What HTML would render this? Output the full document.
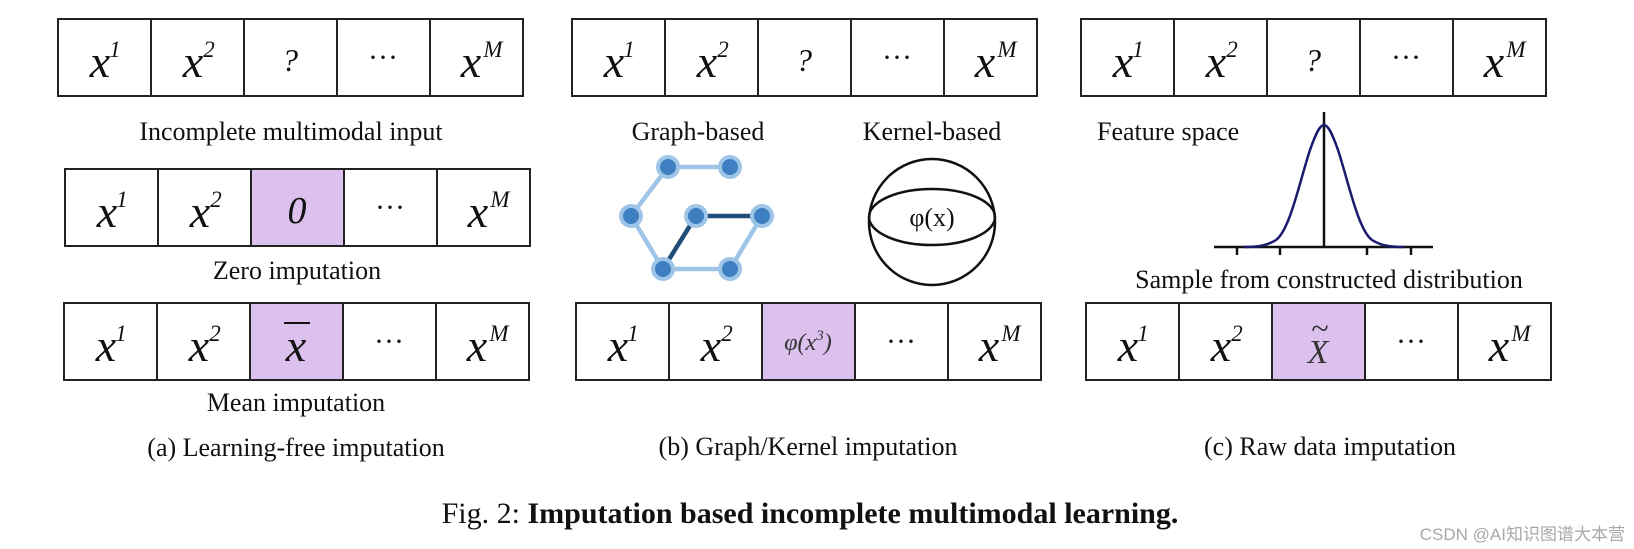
<!DOCTYPE html>
<html><head><meta charset="utf-8"><style>
html,body{margin:0;padding:0;background:#fff;}
svg{display:block;}
text{font-family:"Liberation Serif",serif;fill:#111;}
.lab{font-size:26px;}
.cx{font-size:46px;font-style:italic;}
.sp{font-size:23px;font-style:italic;}
</style></head><body>
<svg width="1634" height="549" viewBox="0 0 1634 549" xmlns="http://www.w3.org/2000/svg">
<defs>
<g id="row">
  <rect x="0" y="0" width="465" height="77" fill="#fff" stroke="#222" stroke-width="2"/>
  <line x1="93" y1="0" x2="93" y2="77" stroke="#222" stroke-width="2"/>
  <line x1="186" y1="0" x2="186" y2="77" stroke="#222" stroke-width="2"/>
  <line x1="279" y1="0" x2="279" y2="77" stroke="#222" stroke-width="2"/>
  <line x1="372" y1="0" x2="372" y2="77" stroke="#222" stroke-width="2"/>
  <text class="cx" x="42" y="58" text-anchor="middle">x</text><text class="sp" x="57" y="38" text-anchor="middle">1</text>
  <text class="cx" x="135" y="58" text-anchor="middle">x</text><text class="sp" x="151" y="38" text-anchor="middle">2</text>
  <text x="325" y="48" text-anchor="middle" style="font-size:30px">···</text>
  <text class="cx" x="413" y="58" text-anchor="middle">x</text><text class="sp" x="435" y="38" text-anchor="middle">M</text>
</g>
<g id="purple"><rect x="186" y="0" width="93" height="77" fill="#dcc0ee" stroke="#222" stroke-width="2"/></g>
</defs>

<!-- Panel a -->
<g transform="translate(58,19)"><use href="#row"/><text x="232" y="52" text-anchor="middle" style="font-size:32px;font-style:italic">?</text></g>
<text class="lab" x="291" y="140" text-anchor="middle">Incomplete multimodal input</text>
<g transform="translate(65,169)"><use href="#row"/><use href="#purple"/><text x="232" y="54" text-anchor="middle" style="font-size:38px;font-style:italic">0</text></g>
<text class="lab" x="297" y="279" text-anchor="middle">Zero imputation</text>
<g transform="translate(64,303)"><use href="#row"/><use href="#purple"/><text class="cx" x="232" y="58" text-anchor="middle">x</text><line x1="220" y1="20" x2="246" y2="20" stroke="#111" stroke-width="2"/></g>
<text class="lab" x="296" y="411" text-anchor="middle">Mean imputation</text>
<text class="lab" x="296" y="456" text-anchor="middle">(a) Learning-free imputation</text>

<!-- Panel b -->
<g transform="translate(572,19)"><use href="#row"/><text x="232" y="52" text-anchor="middle" style="font-size:32px;font-style:italic">?</text></g>
<text class="lab" x="698" y="140" text-anchor="middle">Graph-based</text>
<text class="lab" x="932" y="140" text-anchor="middle">Kernel-based</text>
<g stroke-width="4.5" stroke-linecap="round">
  <line x1="668" y1="167" x2="730" y2="167" stroke="#9ec5e8"/>
  <line x1="668" y1="167" x2="631" y2="216" stroke="#9ec5e8"/>
  <line x1="631" y1="216" x2="663" y2="269" stroke="#9ec5e8"/>
  <line x1="663" y1="269" x2="730" y2="269" stroke="#9ec5e8"/>
  <line x1="730" y1="269" x2="762" y2="216" stroke="#9ec5e8"/>
  <line x1="696" y1="216" x2="762" y2="216" stroke="#1f4e79"/>
  <line x1="696" y1="216" x2="663" y2="269" stroke="#1f4e79"/>
</g>
<g fill="#3d7fc1" stroke="#9ec5e8" stroke-width="4">
  <circle cx="668" cy="167" r="10"/><circle cx="730" cy="167" r="10"/>
  <circle cx="631" cy="216" r="10"/><circle cx="696" cy="216" r="10"/><circle cx="762" cy="216" r="10"/>
  <circle cx="663" cy="269" r="10"/><circle cx="730" cy="269" r="10"/>
</g>
<circle cx="932" cy="222" r="63" fill="none" stroke="#111" stroke-width="2.5"/>
<ellipse cx="932" cy="217" rx="63" ry="28" fill="none" stroke="#111" stroke-width="2.5"/>
<text x="932" y="226" text-anchor="middle" style="font-size:26px">φ(x)</text>
<g transform="translate(576,303)"><use href="#row"/><use href="#purple"/><text x="232" y="47" text-anchor="middle" style="font-size:24px;font-style:italic;fill:#333">φ(x<tspan dy="-10" font-size="15">3</tspan><tspan dy="10">)</tspan></text></g>
<text class="lab" x="808" y="455" text-anchor="middle">(b) Graph/Kernel imputation</text>

<!-- Panel c -->
<g transform="translate(1081,19)"><use href="#row"/><text x="232" y="52" text-anchor="middle" style="font-size:32px;font-style:italic">?</text></g>
<text class="lab" x="1097" y="140">Feature space</text>
<g stroke="#111" stroke-width="2.5">
  <line x1="1214" y1="247" x2="1433" y2="247"/>
  <line x1="1324" y1="112" x2="1324" y2="247"/>
  <line x1="1237" y1="247" x2="1237" y2="255"/>
  <line x1="1280" y1="247" x2="1280" y2="255"/>
  <line x1="1367" y1="247" x2="1367" y2="255"/>
  <line x1="1411" y1="247" x2="1411" y2="255"/>
</g>
<path d="M1244,247 C1260,247 1268,245 1276,240 C1290,230 1300,180 1310,150 C1316,133 1320,125 1324,125 C1328,125 1332,133 1338,150 C1348,180 1358,230 1372,240 C1380,245 1388,247 1404,247" fill="none" stroke="#1a1a6e" stroke-width="2.5"/>
<text class="lab" x="1329" y="288" text-anchor="middle">Sample from constructed distribution</text>
<g transform="translate(1086,303)"><use href="#row"/><use href="#purple"/><text x="232" y="60" text-anchor="middle" style="font-size:34px;font-style:italic;fill:#333">X</text><text x="234" y="36" text-anchor="middle" style="font-size:32px;fill:#333">~</text></g>
<text class="lab" x="1330" y="455" text-anchor="middle">(c) Raw data imputation</text>

<!-- Caption -->
<text x="810" y="523" text-anchor="middle" style="font-size:30px">Fig. 2: <tspan font-weight="bold">Imputation based incomplete multimodal learning.</tspan></text>
<text x="1625" y="540" text-anchor="end" style="font-family:'Liberation Sans','Noto Sans CJK SC',sans-serif;font-size:17px;fill:#a8a8a8">CSDN @AI知识图谱大本营</text>
</svg>
</body></html>
